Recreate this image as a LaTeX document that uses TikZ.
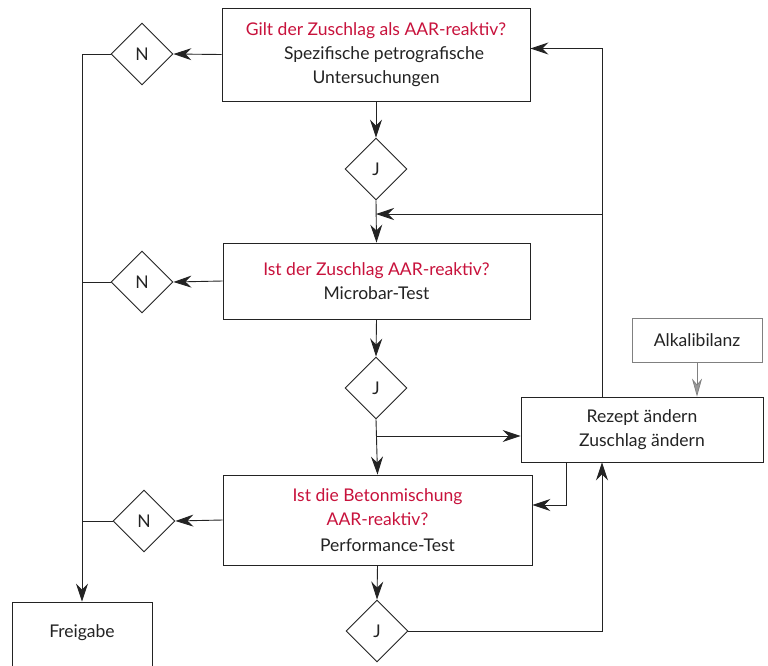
\documentclass[tikz,border=0pt]{standalone}
\usepackage{fontspec}
\setmainfont{Lato}
\usetikzlibrary{shapes.geometric,arrows.meta}
\definecolor{accent}{RGB}{200,18,60}
\definecolor{ink}{RGB}{35,35,35}
\begin{document}
\begin{tikzpicture}[x=1pt,y=-1pt,
  every node/.style={font=\fontsize{17.5}{24}\selectfont, text=ink},
  box/.style={draw=ink, line width=0.9pt, rectangle, align=center, inner sep=0pt},
  dia/.style={draw=ink, line width=0.9pt, diamond, minimum width=62pt, minimum height=62pt, inner sep=0pt, aspect=1},
  con/.style={draw=ink, line width=0.9pt},
  arr/.style={con, -{Stealth[length=18pt,width=12pt,inset=6pt]}},
  garr/.style={draw=gray, line width=0.7pt, -{Stealth[length=18pt,width=10pt,inset=6pt,fill=gray!80]}}
]
\clip (0,0) rectangle (768,665);
\fill[white] (0,0) rectangle (768,665);

% boxes
\node[box, minimum width=308pt, minimum height=93pt] (box1) at (376,54.5)
  {{\color{accent}Gilt der Zuschlag als AAR-reaktiv?}\\ \hspace*{16pt}Spezifische petrografische\\ Untersuchungen};
\node[box, minimum width=307pt, minimum height=76pt] (box2) at (376.5,281)
  {{\color{accent}Ist der Zuschlag AAR-reaktiv?}\\ Microbar-Test};
\node[box, minimum width=309pt, minimum height=90pt] (box3) at (377.5,520)
  {\fontsize{17.5}{23}\selectfont{\color{accent}Ist die Betonmischung}\\ {\color{accent}AAR-reaktiv?}\\[2pt] \hspace*{20pt}Performance-Test};
\node[box, minimum width=242pt, minimum height=65pt] (rezept) at (642,429.5)
  {Rezept ändern\\ Zuschlag ändern};
\node[box, draw=gray, line width=0.7pt, minimum width=130pt, minimum height=44pt] (alkali) at (697,340)
  {Alkalibilanz};
\node[box, minimum width=140pt, minimum height=76pt] (freigabe) at (82,640) {};
\node (freigabetext) at (82,633) {Freigabe};

% diamonds
\node[dia] (n1) at (142,54) {N};
\node[dia] (n2) at (142,282) {N};
\node[dia] (n3) at (144,521) {N};
\node[dia] (j1) at (376,169) {J};
\node[dia] (j2) at (376,388) {J};
\node[dia] (j3) at (377,631) {J};

\coordinate (loopx) at (602,0);
\coordinate (backx) at (566,0);
\coordinate (tap1) at (376,214);
\coordinate (tap2) at (376,436);

% main column
\draw[arr] (box1.south) -- (j1.north);
\draw[arr] (j1.south) -- (box2.north);
\draw[arr] (box2.south) -- (j2.north);
\draw[arr] (j2.south) -- (box3.north);
\draw[arr] (box3.south) -- (j3.north);

% N branches
\draw[arr] (box1.west) -- (n1.east);
\draw[arr] (box2.west) -- (n2.east);
\draw[arr] (box3.west) -- (n3.east);
\draw[arr] (n1.west) -| (freigabe.north);
\draw[con] (n2.west) -- (n2.west -| freigabe.north);
\draw[con] (n3.west) -- (n3.west -| freigabe.north);

% loops
\draw[arr] (rezept.north -| loopx) |- ([yshift=6pt]box1.east);
\draw[arr] (loopx |- tap1) -- (tap1);
\draw[arr] (tap2) -- (tap2 -| rezept.west);
\draw[arr] (rezept.south -| backx) |- ([yshift=15pt]box3.east);
\draw[arr] (j3.east) -| (rezept.south -| loopx);
\draw[garr] (alkali.south) -- (rezept.north -| alkali.south);
\end{tikzpicture}
\end{document}
